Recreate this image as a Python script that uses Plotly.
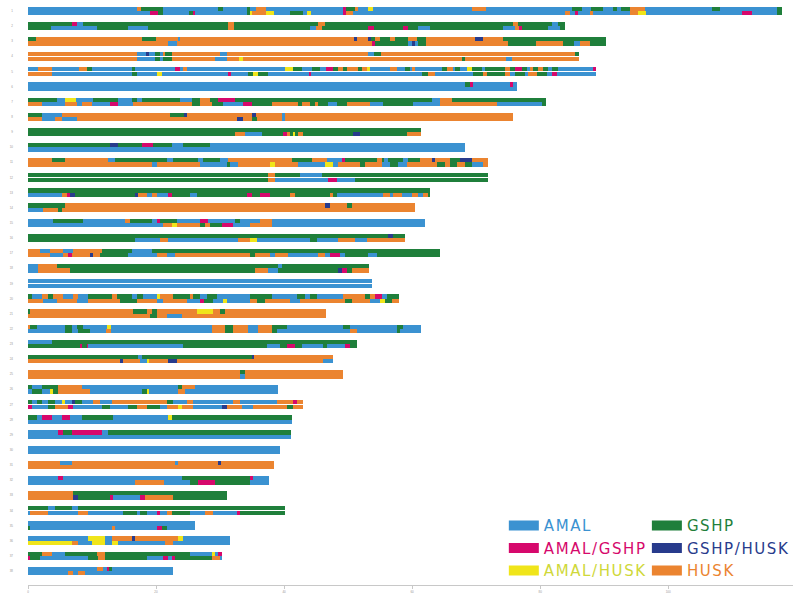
import plotly.graph_objects as go

# ---------------- data (positions in Mb, segments given as (end, ancestry)) ----------------
codes = ["A", "AG", "AH", "G", "GH", "H"]
ancestry_names = ["AMAL", "AMAL/GSHP", "AMAL/HUSK", "GSHP", "GSHP/HUSK", "HUSK"]
ancestry_colors = ["#3b92d1", "#d6086c", "#f0e51a", "#1f7f3b", "#283b8c", "#eb8430"]
legend_text_colors = ["#3b92d1", "#d6086c", "#cfd83a", "#1f7f3b", "#283b8c", "#eb8430"]
chrom_labels = [str(i) for i in range(1, 39)]
x_tick_vals = [0, 20, 40, 60, 80, 100]

chr01_a = [(17.0,"A"),(17.7,"H"),(21.1,"G"),(29.7,"A"),(30.5,"G"),(34.2,"A"),(34.7,"G"),(35.6,"A"),(37.2,"H"),(49.2,"A"),(49.7,"AG"),(51.1,"G"),(51.6,"H"),(53.1,"A"),(53.9,"AH"),(69.4,"A"),(71.6,"H"),(85.0,"A"),(86.6,"G"),(88.0,"A"),(89.8,"G"),(91.4,"A"),(92.0,"G"),(92.7,"A"),(94.1,"G"),(96.4,"H"),(106.9,"A"),(108.1,"G"),(117.0,"A"),(117.8,"G")]
chr01_b = [(19.1,"A"),(20.3,"AG"),(21.1,"G"),(25.2,"A"),(25.8,"G"),(26.1,"AG"),(34.2,"A"),(34.7,"G"),(35.0,"AH"),(37.2,"H"),(38.4,"AH"),(40.9,"A"),(43.0,"G"),(43.6,"A"),(44.2,"AH"),(49.2,"A"),(49.7,"AG"),(50.8,"H"),(83.9,"A"),(84.7,"H"),(85.5,"A"),(85.9,"AG"),(87.8,"A"),(88.3,"H"),(94.1,"A"),(95.3,"H"),(96.6,"AH"),(111.6,"A"),(113.1,"AG"),(117.0,"A"),(117.8,"G")]
chr02_a = [(6.9,"G"),(7.7,"AG"),(8.6,"A"),(31.3,"G"),(32.2,"H"),(45.3,"G"),(46.4,"H"),(75.8,"G"),(76.6,"H"),(81.9,"G"),(82.8,"A"),(83.9,"G")]
chr02_b = [(3.6,"G"),(10.8,"A"),(15.6,"G"),(18.8,"A"),(31.3,"G"),(32.2,"H"),(44.1,"G"),(45.0,"A"),(45.9,"H"),(53.1,"G"),(54.1,"AG"),(58.6,"G"),(59.4,"AG"),(60.9,"G"),(62.8,"A"),(74.2,"G"),(76.1,"A"),(76.7,"H"),(77.2,"AG"),(81.3,"G"),(83.1,"A"),(83.9,"G")]
chr03_a = [(1.3,"G"),(17.8,"H"),(20.0,"G"),(23.4,"H"),(23.8,"A"),(50.9,"H"),(51.4,"GH"),(53.1,"H"),(53.6,"GH"),(54.2,"G"),(55.0,"H"),(56.6,"G"),(57.3,"H"),(59.4,"G"),(60.8,"H"),(62.2,"G"),(69.8,"H"),(71.1,"GH"),(74.2,"H"),(90.3,"G")]
chr03_b = [(21.9,"H"),(23.3,"A"),(53.8,"H"),(54.2,"AG"),(59.4,"G"),(60.0,"A"),(60.5,"GH"),(60.9,"A"),(62.2,"G"),(75.0,"H"),(79.4,"G"),(83.6,"H"),(85.3,"G"),(86.3,"A"),(87.8,"H"),(90.3,"G")]
chr04_a = [(17.0,"H"),(18.4,"A"),(18.9,"GH"),(19.8,"A"),(20.6,"G"),(21.1,"A"),(21.4,"H"),(22.5,"G"),(30.0,"H"),(31.1,"A"),(53.1,"H"),(54.1,"A"),(55.2,"G"),(85.5,"H"),(86.1,"G")]
chr04_b = [(17.0,"H"),(19.8,"A"),(20.6,"G"),(21.1,"A"),(22.5,"G"),(29.2,"H"),(31.1,"A"),(33.0,"H"),(33.6,"AH"),(67.8,"H"),(68.3,"G"),(74.7,"H"),(75.6,"A"),(86.1,"H")]
chr05_a = [(1.6,"A"),(3.8,"H"),(8.0,"A"),(9.2,"H"),(10.0,"G"),(16.3,"A"),(16.7,"G"),(23.0,"A"),(23.8,"AG"),(24.2,"A"),(24.8,"H"),(40.2,"A"),(41.4,"AH"),(42.8,"G"),(44.4,"A"),(45.6,"G"),(46.6,"A"),(47.7,"AG"),(48.4,"G"),(49.2,"H"),(49.8,"G"),(51.6,"H"),(52.2,"G"),(53.0,"H"),(53.4,"AH"),(56.6,"A"),(57.7,"H"),(58.9,"A"),(59.7,"G"),(60.0,"A"),(60.5,"H"),(64.7,"A"),(65.5,"G"),(66.4,"H"),(66.7,"A"),(67.5,"G"),(68.6,"A"),(69.4,"AH"),(70.9,"G"),(71.4,"A"),(74.5,"G"),(75.3,"H"),(76.1,"G"),(77.2,"AG"),(78.0,"G"),(78.4,"A"),(78.9,"H"),(79.7,"G"),(80.5,"H"),(81.3,"G"),(81.9,"A"),(82.8,"G"),(88.3,"A"),(88.8,"AG")]
chr05_b = [(3.8,"H"),(16.3,"A"),(17.0,"G"),(20.2,"A"),(20.9,"AH"),(31.3,"A"),(31.7,"AG"),(34.4,"A"),(35.2,"G"),(35.9,"AH"),(37.5,"G"),(43.9,"A"),(44.2,"AG"),(61.6,"A"),(62.5,"G"),(63.6,"H"),(69.5,"A"),(71.1,"G"),(71.7,"H"),(74.5,"G"),(75.3,"H"),(76.1,"A"),(77.7,"G"),(78.1,"A"),(79.5,"H"),(81.1,"G"),(81.9,"A"),(82.7,"AG"),(88.8,"A")]
chr06_a = [(68.3,"A"),(69.1,"G"),(69.5,"AG"),(75.3,"A"),(75.8,"AG"),(76.4,"A")]
chr06_b = [(76.4,"A")]
chr07_a = [(4.5,"G"),(5.8,"A"),(7.5,"AH"),(10.2,"A"),(14.1,"G"),(16.3,"A"),(17.0,"G"),(17.8,"A"),(23.8,"G"),(25.6,"A"),(26.9,"G"),(28.4,"H"),(29.7,"G"),(32.3,"AG"),(63.1,"G"),(64.4,"A"),(66.3,"H"),(80.9,"G")]
chr07_b = [(2.2,"H"),(5.8,"A"),(7.7,"H"),(8.4,"A"),(10.0,"H"),(12.8,"A"),(14.1,"AG"),(16.4,"A"),(25.6,"H"),(26.9,"G"),(28.8,"H"),(30.5,"G"),(33.6,"A"),(35.0,"AG"),(38.1,"G"),(42.2,"H"),(42.8,"G"),(44.1,"H"),(44.8,"G"),(45.3,"H"),(46.9,"G"),(48.3,"A"),(49.8,"G"),(53.4,"H"),(55.5,"A"),(60.2,"G"),(64.4,"A"),(73.3,"H"),(80.3,"A"),(80.9,"G")]
chr08_a = [(2.2,"G"),(5.3,"A"),(22.2,"H"),(24.5,"G"),(24.8,"GH"),(35.0,"H"),(35.6,"GH"),(39.7,"H"),(40.2,"A"),(75.8,"H")]
chr08_b = [(2.2,"H"),(4.2,"A"),(5.3,"H"),(7.7,"A"),(32.7,"H"),(33.6,"GH"),(35.0,"H"),(35.8,"G"),(39.7,"H"),(40.2,"A"),(75.8,"H")]
chr09_a = [(61.4,"G")]
chr09_b = [(32.3,"G"),(33.9,"H"),(36.6,"A"),(39.8,"G"),(40.6,"AG"),(40.9,"H"),(41.4,"G"),(41.7,"AH"),(42.2,"G"),(43.0,"H"),(50.8,"G"),(51.9,"GH"),(59.2,"G"),(61.4,"H")]
chr10_a = [(12.8,"G"),(14.1,"GH"),(17.8,"G"),(19.5,"AG"),(22.5,"G"),(24.2,"A"),(28.4,"G"),(68.3,"A")]
chr10_b = [(68.3,"A")]
chr11_a = [(3.8,"H"),(5.8,"G"),(12.5,"H"),(13.6,"A"),(21.7,"G"),(22.7,"A"),(26.6,"G"),(27.3,"A"),(30.0,"G"),(31.3,"A"),(41.3,"H"),(44.4,"G"),(46.7,"H"),(49.1,"A"),(49.5,"AG"),(54.5,"G"),(55.3,"H"),(55.5,"G"),(56.3,"A"),(58.6,"G"),(59.4,"A"),(61.3,"G"),(63.1,"H"),(63.6,"GH"),(65.9,"H"),(67.5,"G"),(69.4,"GH"),(71.9,"H")]
chr11_b = [(19.4,"H"),(20.2,"A"),(26.9,"H"),(31.1,"A"),(31.6,"G"),(32.8,"A"),(37.8,"H"),(38.6,"AH"),(42.2,"H"),(46.4,"A"),(47.7,"AH"),(48.4,"A"),(51.9,"H"),(52.7,"G"),(55.3,"H"),(56.6,"A"),(57.8,"G"),(59.2,"A"),(63.9,"H"),(65.2,"G"),(65.9,"H"),(67.0,"G"),(68.3,"H"),(69.4,"G"),(71.1,"A"),(71.9,"H")]
chr12_a = [(37.5,"G"),(38.6,"H"),(42.5,"G"),(45.9,"A"),(71.9,"G")]
chr12_b = [(37.5,"G"),(38.6,"H"),(46.9,"A"),(48.3,"AG"),(51.1,"A"),(71.9,"G")]
chr13_a = [(62.8,"G")]
chr13_b = [(5.3,"A"),(6.1,"H"),(6.6,"AG"),(7.3,"GH"),(16.7,"G"),(17.2,"GH"),(18.6,"H"),(19.4,"A"),(20.2,"H"),(21.9,"A"),(22.5,"AG"),(25.3,"G"),(26.4,"A"),(34.2,"G"),(35.0,"AG"),(36.3,"G"),(37.8,"AG"),(40.9,"G"),(41.7,"H"),(47.2,"G"),(47.7,"H"),(48.3,"G"),(55.5,"A"),(56.6,"H"),(57.0,"A"),(58.4,"H"),(60.0,"A"),(60.9,"H"),(61.7,"A"),(62.5,"H"),(62.8,"G")]
chr14_a = [(5.8,"G"),(46.4,"H"),(47.2,"GH"),(49.8,"H"),(50.6,"G"),(60.5,"H")]
chr14_b = [(2.3,"A"),(4.7,"H"),(5.3,"G"),(60.5,"H")]
chr15_a = [(3.9,"A"),(8.6,"G"),(15.2,"A"),(15.9,"H"),(19.4,"G"),(20.2,"A"),(20.6,"AG"),(23.3,"G"),(26.9,"A"),(28.1,"AG"),(32.3,"A"),(33.1,"G"),(36.3,"A"),(38.1,"H"),(62.0,"A")]
chr15_b = [(21.1,"A"),(22.5,"H"),(23.3,"AH"),(26.9,"H"),(27.7,"G"),(28.4,"H"),(30.3,"G"),(32.0,"AG"),(34.7,"A"),(38.1,"H"),(62.0,"A")]
chr16_a = [(56.3,"G"),(57.0,"GH"),(58.9,"G")]
chr16_b = [(16.7,"G"),(20.6,"A"),(21.9,"H"),(32.8,"A"),(34.7,"H"),(35.8,"AH"),(44.1,"A"),(45.2,"G"),(48.4,"A"),(51.1,"H"),(53.0,"A"),(58.9,"H")]
chr17_a = [(1.9,"H"),(3.4,"A"),(5.5,"H"),(7.0,"A"),(11.6,"H"),(16.3,"G"),(19.4,"A"),(64.4,"G")]
chr17_b = [(3.4,"H"),(5.5,"A"),(6.3,"H"),(6.9,"AG"),(9.7,"H"),(10.2,"GH"),(11.3,"H"),(15.6,"G"),(20.2,"A"),(21.7,"H"),(23.0,"A"),(34.7,"H"),(35.5,"G"),(37.8,"H"),(38.6,"A"),(40.6,"H"),(45.3,"A"),(46.4,"H"),(47.2,"A"),(48.8,"AG"),(49.5,"A"),(53.1,"G"),(54.5,"A"),(64.4,"G")]
chr18_a = [(1.6,"A"),(4.5,"H"),(39.1,"G"),(39.7,"A"),(53.3,"G")]
chr18_b = [(1.6,"A"),(6.6,"H"),(35.5,"G"),(37.5,"H"),(39.1,"A"),(48.4,"G"),(49.1,"GH"),(49.8,"AG"),(50.6,"G"),(53.3,"H")]
chr19_a = [(53.8,"A")]
chr19_b = [(53.8,"A")]
chr20_a = [(0.6,"G"),(2.2,"A"),(3.1,"H"),(3.9,"G"),(5.5,"H"),(7.0,"A"),(7.8,"H"),(9.4,"A"),(13.1,"G"),(13.9,"H"),(16.3,"G"),(17.0,"A"),(18.0,"G"),(20.2,"A"),(20.6,"AH"),(22.7,"H"),(25.3,"G"),(25.8,"H"),(26.9,"G"),(28.0,"A"),(29.5,"G"),(34.7,"A"),(38.1,"G"),(42.0,"A"),(43.3,"G"),(44.1,"A"),(45.2,"G"),(49.2,"A"),(52.7,"H"),(53.4,"G"),(54.2,"H"),(55.3,"AG"),(56.1,"A"),(58.0,"G")]
chr20_b = [(2.3,"H"),(4.5,"A"),(7.7,"H"),(9.4,"A"),(14.4,"H"),(17.0,"G"),(20.2,"H"),(21.1,"A"),(24.8,"H"),(26.9,"A"),(27.5,"AG"),(28.9,"G"),(30.5,"A"),(31.1,"AH"),(34.7,"A"),(35.8,"H"),(37.0,"G"),(40.9,"H"),(42.5,"A"),(49.5,"H"),(50.6,"G"),(53.4,"H"),(55.0,"A"),(55.8,"AH"),(56.9,"G"),(58.0,"H")]
chr21_a = [(0.3,"G"),(16.4,"H"),(18.6,"G"),(19.4,"H"),(20.2,"G"),(26.4,"H"),(28.9,"AH"),(30.0,"H"),(30.8,"G"),(46.6,"H")]
chr21_b = [(19.1,"H"),(20.2,"G"),(21.7,"H"),(24.1,"A"),(46.6,"H")]
chr22_a = [(0.2,"H"),(1.4,"G"),(5.8,"A"),(6.9,"G"),(7.7,"A"),(8.6,"G"),(12.3,"A"),(13.0,"AH"),(28.8,"A"),(30.8,"H"),(32.0,"G"),(34.4,"H"),(35.9,"A"),(38.1,"H"),(40.5,"G"),(49.2,"A"),(50.3,"G"),(57.7,"A"),(58.6,"G"),(61.4,"A")]
chr22_b = [(5.8,"A"),(6.9,"G"),(7.8,"A"),(9.7,"G"),(12.2,"A"),(13.0,"H"),(28.8,"A"),(30.8,"H"),(32.0,"G"),(34.4,"H"),(35.9,"A"),(38.1,"H"),(38.9,"G"),(50.3,"A"),(51.4,"H"),(57.7,"A"),(58.1,"G"),(61.4,"A")]
chr23_a = [(3.8,"A"),(51.4,"G")]
chr23_b = [(8.1,"G"),(8.4,"AG"),(9.2,"G"),(9.4,"AG"),(24.2,"A"),(37.3,"G"),(39.4,"A"),(40.5,"G"),(41.7,"AG"),(42.8,"G"),(46.1,"A"),(46.7,"G"),(49.5,"A"),(50.3,"AG"),(51.4,"G")]
chr24_a = [(17.2,"G"),(17.8,"A"),(35.0,"G"),(35.3,"GH"),(47.7,"H")]
chr24_b = [(14.4,"H"),(14.8,"GH"),(17.5,"H"),(18.6,"A"),(18.9,"AH"),(21.9,"H"),(23.3,"GH"),(46.1,"H"),(47.7,"A")]
chr25_a = [(33.1,"H"),(33.9,"G"),(49.2,"H")]
chr25_b = [(33.1,"H"),(33.9,"A"),(49.2,"H")]
chr26_a = [(0.6,"G"),(2.2,"A"),(4.7,"G"),(8.4,"H"),(23.4,"A"),(24.1,"G"),(26.1,"H"),(39.1,"A")]
chr26_b = [(0.6,"A"),(2.2,"G"),(3.4,"A"),(3.9,"AH"),(4.7,"G"),(9.7,"H"),(17.8,"A"),(18.6,"G"),(18.8,"AH"),(23.4,"A"),(24.5,"H"),(39.1,"A")]
chr27_a = [(0.6,"G"),(1.4,"A"),(2.2,"G"),(3.1,"A"),(4.2,"G"),(5.3,"A"),(5.8,"AH"),(7.0,"A"),(7.3,"GH"),(8.4,"G"),(10.2,"A"),(11.3,"H"),(13.1,"A"),(21.7,"H"),(22.7,"G"),(24.8,"A"),(25.8,"H"),(32.0,"A"),(33.1,"H"),(38.9,"A"),(41.4,"H"),(42.0,"AG"),(43.0,"H")]
chr27_b = [(0.6,"AG"),(3.1,"A"),(4.2,"G"),(6.3,"H"),(7.0,"AG"),(11.6,"A"),(12.8,"G"),(15.6,"A"),(17.0,"G"),(18.6,"H"),(20.6,"G"),(21.7,"A"),(23.4,"H"),(24.1,"AH"),(25.8,"H"),(30.3,"A"),(31.1,"GH"),(33.4,"H"),(35.2,"A"),(40.5,"H"),(41.4,"G"),(43.0,"H")]
chr28_a = [(1.4,"G"),(2.2,"A"),(3.8,"AG"),(5.3,"A"),(6.6,"AG"),(8.4,"A"),(13.3,"G"),(21.9,"A"),(22.5,"AH"),(41.3,"G")]
chr28_b = [(41.3,"A")]
chr29_a = [(4.7,"A"),(5.5,"AG"),(6.9,"G"),(11.6,"AG"),(12.5,"A"),(41.1,"G")]
chr29_b = [(41.1,"A")]
chr30_a = [(39.4,"A")]
chr30_b = [(39.4,"A")]
chr31_a = [(5.0,"H"),(6.9,"A"),(23.0,"H"),(23.4,"A"),(29.7,"H"),(30.2,"GH"),(38.4,"H")]
chr31_b = [(38.4,"H")]
chr32_a = [(4.7,"A"),(5.5,"AG"),(24.1,"A"),(34.7,"G"),(35.2,"AG"),(37.7,"A")]
chr32_b = [(16.7,"A"),(21.3,"H"),(25.3,"A"),(26.6,"G"),(29.2,"AG"),(34.7,"G"),(37.7,"A")]
chr33_a = [(7.0,"H"),(31.1,"G")]
chr33_b = [(7.0,"H"),(7.8,"GH"),(12.8,"G"),(13.3,"AG"),(17.5,"A"),(18.3,"AG"),(22.7,"H"),(31.1,"G")]
chr34_a = [(3.1,"G"),(4.2,"A"),(6.9,"G"),(7.8,"A"),(40.2,"G")]
chr34_b = [(0.3,"A"),(3.1,"H"),(7.8,"A"),(9.4,"H"),(14.8,"A"),(17.0,"G"),(17.5,"A"),(18.6,"G"),(20.3,"A"),(20.6,"AG"),(21.7,"A"),(22.5,"H"),(25.3,"G"),(27.7,"A"),(28.9,"H"),(32.8,"A"),(33.1,"AG"),(40.2,"G")]
chr35_a = [(26.1,"A")]
chr35_b = [(0.3,"G"),(13.1,"A"),(13.6,"H"),(20.2,"A"),(20.9,"AG"),(21.7,"G"),(26.1,"A")]
chr36_a = [(9.4,"A"),(12.0,"AH"),(13.1,"A"),(16.3,"H"),(16.7,"GH"),(23.4,"H"),(24.2,"AH"),(31.6,"A")]
chr36_b = [(6.9,"AH"),(7.8,"H"),(10.0,"A"),(12.0,"AH"),(13.1,"A"),(14.1,"AH"),(21.4,"A"),(22.7,"H"),(31.6,"A")]
chr37_a = [(2.2,"G"),(3.8,"H"),(5.8,"A"),(10.8,"G"),(12.0,"H"),(25.3,"G"),(28.8,"A"),(29.2,"AH"),(29.7,"A"),(30.3,"AG")]
chr37_b = [(0.3,"AG"),(1.9,"G"),(9.4,"A"),(10.9,"G"),(12.0,"H"),(18.6,"G"),(21.1,"A"),(21.9,"AG"),(22.5,"A"),(23.0,"AG"),(28.8,"G"),(30.0,"H"),(30.3,"A")]
chr38_a = [(10.8,"A"),(11.7,"H"),(12.3,"A"),(12.8,"AG"),(13.1,"G"),(22.7,"A")]
chr38_b = [(6.3,"A"),(7.0,"H"),(7.8,"A"),(8.9,"H"),(22.7,"A")]

haplotypes = [
    (chr01_a, chr01_b), (chr02_a, chr02_b), (chr03_a, chr03_b), (chr04_a, chr04_b),
    (chr05_a, chr05_b), (chr06_a, chr06_b), (chr07_a, chr07_b), (chr08_a, chr08_b),
    (chr09_a, chr09_b), (chr10_a, chr10_b), (chr11_a, chr11_b), (chr12_a, chr12_b),
    (chr13_a, chr13_b), (chr14_a, chr14_b), (chr15_a, chr15_b), (chr16_a, chr16_b),
    (chr17_a, chr17_b), (chr18_a, chr18_b), (chr19_a, chr19_b), (chr20_a, chr20_b),
    (chr21_a, chr21_b), (chr22_a, chr22_b), (chr23_a, chr23_b), (chr24_a, chr24_b),
    (chr25_a, chr25_b), (chr26_a, chr26_b), (chr27_a, chr27_b), (chr28_a, chr28_b),
    (chr29_a, chr29_b), (chr30_a, chr30_b), (chr31_a, chr31_b), (chr32_a, chr32_b),
    (chr33_a, chr33_b), (chr34_a, chr34_b), (chr35_a, chr35_b), (chr36_a, chr36_b),
    (chr37_a, chr37_b), (chr38_a, chr38_b),
]

# ---------------- build traces ----------------
HAP_OFFSET = 0.145
BAR_W = 0.28
segs = {c: {"y": [], "base": [], "x": []} for c in codes}
for i, (ha, hb) in enumerate(haplotypes):
    chrom = i + 1
    for hap, off in ((ha, -HAP_OFFSET), (hb, HAP_OFFSET)):
        start = 0.0
        for end, code in hap:
            segs[code]["y"].append(chrom + off)
            segs[code]["base"].append(start)
            segs[code]["x"].append(end - start)
            start = end

fig = go.Figure()
for code, name, col in zip(codes, ancestry_names, ancestry_colors):
    s = segs[code]
    fig.add_trace(go.Bar(
        x=s["x"], base=s["base"], y=s["y"], orientation="h", width=BAR_W,
        marker=dict(color=col, line=dict(width=0)), name=name, showlegend=False,
        hoverinfo="skip"))

for k, (name, col, tcol) in enumerate(zip(ancestry_names, ancestry_colors, legend_text_colors)):
    fig.add_trace(go.Scatter(
        x=[None], y=[None], mode="lines", line=dict(color=col, width=10),
        name=f"<span style='color:{tcol};letter-spacing:1.6px'>{name}</span>",
        legend="legend" if k < 3 else "legend2", showlegend=True))

legend_style = dict(xanchor="left", yanchor="top", bgcolor="rgba(0,0,0,0)",
                    font=dict(size=15, family="DejaVu Sans, Verdana, sans-serif"),
                    itemwidth=30, tracegroupgap=0)

fig.update_layout(
    width=800, height=603,
    margin=dict(l=28, r=7, t=3, b=18),
    paper_bgcolor="white", plot_bgcolor="white",
    barmode="overlay", bargap=0,
    font=dict(family="Liberation Sans, Arial, sans-serif"),
    xaxis=dict(range=[0, 119.5], showgrid=False, zeroline=False, showline=True,
               linecolor="#c8c8c8", linewidth=1, ticks="outside", ticklen=3,
               tickcolor="#c8c8c8", tickvals=x_tick_vals,
               ticktext=[str(v) for v in x_tick_vals], automargin=False,
               tickfont=dict(size=3, color="#999999")),
    yaxis=dict(range=[38.925, 0.47], showgrid=False, zeroline=False, showline=False,
               tickvals=list(range(1, 39)), ticktext=chrom_labels, ticks="",
               ticklabelstandoff=14, automargin=False,
               tickfont=dict(size=3, color="#999999")),
    legend=dict(x=0.622, y=0.13, **legend_style),
    legend2=dict(x=0.809, y=0.13, **legend_style),
)

fig.write_html("out.html", config={"displayModeBar": False},
               post_script="document.body.style.margin='0';document.body.style.padding='0';")
